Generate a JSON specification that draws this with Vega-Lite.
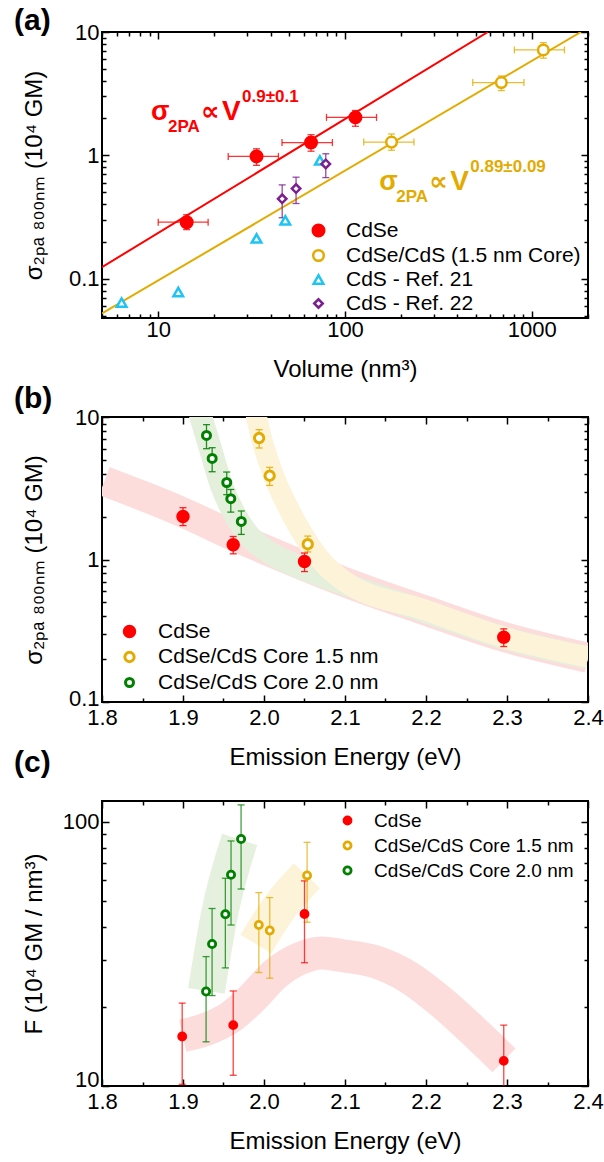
{
 "$schema": "https://vega.github.io/schema/vega-lite/v6.json",
 "background": "white",
 "padding": {"left": 13, "top": 5, "right": 5, "bottom": 5},
 "spacing": 99,
 "bounds": "flush",
 "datasets": {
  "pA": [
   {"s": "CdSe", "V": 14.2, "sig": 0.287, "Vlo": 10.0, "Vhi": 18.5, "slo": 0.25, "shi": 0.33},
   {"s": "CdSe", "V": 33.6, "sig": 0.98, "Vlo": 23.7, "Vhi": 44.0, "slo": 0.83, "shi": 1.13},
   {"s": "CdSe", "V": 65.8, "sig": 1.27, "Vlo": 46.0, "Vhi": 85.6, "slo": 1.08, "shi": 1.47},
   {"s": "CdSe", "V": 113.7, "sig": 2.03, "Vlo": 79.6, "Vhi": 147.5, "slo": 1.72, "shi": 2.31},
   {"s": "CdSe/CdS (1.5 nm Core)", "V": 177.5, "sig": 1.28, "Vlo": 126, "Vhi": 234, "slo": 1.10, "shi": 1.49},
   {"s": "CdSe/CdS (1.5 nm Core)", "V": 687, "sig": 3.89, "Vlo": 483, "Vhi": 908, "slo": 3.35, "shi": 4.4},
   {"s": "CdSe/CdS (1.5 nm Core)", "V": 1153, "sig": 7.15, "Vlo": 807, "Vhi": 1496, "slo": 6.14, "shi": 8.2},
   {"s": "CdS - Ref. 21", "V": 6.37, "sig": 0.064, "Vlo": null, "Vhi": null, "slo": null, "shi": null},
   {"s": "CdS - Ref. 21", "V": 12.8, "sig": 0.078, "Vlo": null, "Vhi": null, "slo": null, "shi": null},
   {"s": "CdS - Ref. 21", "V": 33.6, "sig": 0.212, "Vlo": null, "Vhi": null, "slo": null, "shi": null},
   {"s": "CdS - Ref. 21", "V": 47.9, "sig": 0.297, "Vlo": null, "Vhi": null, "slo": null, "shi": null},
   {"s": "CdS - Ref. 21", "V": 73.4, "sig": 0.91, "Vlo": null, "Vhi": null, "slo": null, "shi": null},
   {"s": "CdS - Ref. 22", "V": 46.1, "sig": 0.444, "Vlo": null, "Vhi": null, "slo": 0.312, "shi": 0.576},
   {"s": "CdS - Ref. 22", "V": 54.7, "sig": 0.538, "Vlo": null, "Vhi": null, "slo": 0.407, "shi": 0.665},
   {"s": "CdS - Ref. 22", "V": 78.9, "sig": 0.852, "Vlo": null, "Vhi": null, "slo": 0.66, "shi": 1.03}
  ],
  "fA": [
   {"fit": "CdSe", "V": 5, "sig": 0.124},
   {"fit": "CdSe", "V": 582, "sig": 10},
   {"fit": "CdSe/CdS (1.5 nm Core)", "V": 5, "sig": 0.0522},
   {"fit": "CdSe/CdS (1.5 nm Core)", "V": 1833, "sig": 10}
  ],
  "nA": [
   {"fit": "CdSe", "V": 9.15, "sig": 1.944, "sup": "0.9±0.1"},
   {"fit": "CdSe/CdS (1.5 nm Core)", "V": 152.6, "sig": 0.528, "sup": "0.89±0.09"}
  ],
  "pB": [
   {"s": "CdSe", "E": 1.900, "sig": 2.0, "lo": 1.73, "hi": 2.31},
   {"s": "CdSe", "E": 1.962, "sig": 1.27, "lo": 1.096, "hi": 1.45},
   {"s": "CdSe", "E": 2.050, "sig": 0.968, "lo": 0.823, "hi": 1.11},
   {"s": "CdSe", "E": 2.296, "sig": 0.285, "lo": 0.245, "hi": 0.326},
   {"s": "CdSe/CdS Core 1.5 nm", "E": 1.994, "sig": 7.12, "lo": 6.06, "hi": 8.15},
   {"s": "CdSe/CdS Core 1.5 nm", "E": 2.007, "sig": 3.87, "lo": 3.31, "hi": 4.43},
   {"s": "CdSe/CdS Core 1.5 nm", "E": 2.054, "sig": 1.28, "lo": 1.13, "hi": 1.46},
   {"s": "CdSe/CdS Core 2.0 nm", "E": 1.929, "sig": 7.43, "lo": 5.99, "hi": 8.84},
   {"s": "CdSe/CdS Core 2.0 nm", "E": 1.936, "sig": 5.12, "lo": 4.13, "hi": 6.09},
   {"s": "CdSe/CdS Core 2.0 nm", "E": 1.954, "sig": 3.47, "lo": 2.85, "hi": 4.11},
   {"s": "CdSe/CdS Core 2.0 nm", "E": 1.959, "sig": 2.67, "lo": 2.15, "hi": 3.10},
   {"s": "CdSe/CdS Core 2.0 nm", "E": 1.972, "sig": 1.85, "lo": 1.50, "hi": 2.19}
  ],
  "bB": [
   {"s": "CdSe", "E": 1.803, "sig": 3.55},
   {"s": "CdSe", "E": 1.85, "sig": 2.8},
   {"s": "CdSe", "E": 1.90, "sig": 2.14},
   {"s": "CdSe", "E": 1.963, "sig": 1.46},
   {"s": "CdSe", "E": 2.05, "sig": 0.90},
   {"s": "CdSe", "E": 2.101, "sig": 0.69},
   {"s": "CdSe", "E": 2.2, "sig": 0.437},
   {"s": "CdSe", "E": 2.297, "sig": 0.285},
   {"s": "CdSe", "E": 2.4, "sig": 0.204},
   {"s": "CdSe/CdS Core 2.0 nm", "E": 1.921, "sig": 10.5},
   {"s": "CdSe/CdS Core 2.0 nm", "E": 1.9347, "sig": 5.77},
   {"s": "CdSe/CdS Core 2.0 nm", "E": 1.947, "sig": 3.37},
   {"s": "CdSe/CdS Core 2.0 nm", "E": 1.9615, "sig": 2.19},
   {"s": "CdSe/CdS Core 2.0 nm", "E": 1.980, "sig": 1.50},
   {"s": "CdSe/CdS Core 2.0 nm", "E": 2.0047, "sig": 1.14},
   {"s": "CdSe/CdS Core 2.0 nm", "E": 2.0458, "sig": 0.874},
   {"s": "CdSe/CdS Core 2.0 nm", "E": 2.1014, "sig": 0.668},
   {"s": "CdSe/CdS Core 2.0 nm", "E": 2.2, "sig": 0.43},
   {"s": "CdSe/CdS Core 2.0 nm", "E": 2.3, "sig": 0.278},
   {"s": "CdSe/CdS Core 2.0 nm", "E": 2.4, "sig": 0.205},
   {"s": "CdSe/CdS Core 1.5 nm", "E": 1.990, "sig": 10.5},
   {"s": "CdSe/CdS Core 1.5 nm", "E": 1.996, "sig": 7.4},
   {"s": "CdSe/CdS Core 1.5 nm", "E": 2.005, "sig": 5.0},
   {"s": "CdSe/CdS Core 1.5 nm", "E": 2.015, "sig": 3.5},
   {"s": "CdSe/CdS Core 1.5 nm", "E": 2.027, "sig": 2.5},
   {"s": "CdSe/CdS Core 1.5 nm", "E": 2.040, "sig": 1.8},
   {"s": "CdSe/CdS Core 1.5 nm", "E": 2.055, "sig": 1.3},
   {"s": "CdSe/CdS Core 1.5 nm", "E": 2.075, "sig": 0.92},
   {"s": "CdSe/CdS Core 1.5 nm", "E": 2.10, "sig": 0.70},
   {"s": "CdSe/CdS Core 1.5 nm", "E": 2.2, "sig": 0.44},
   {"s": "CdSe/CdS Core 1.5 nm", "E": 2.3, "sig": 0.28},
   {"s": "CdSe/CdS Core 1.5 nm", "E": 2.4, "sig": 0.207}
  ],
  "pC": [
   {"s": "CdSe", "E": 1.899, "F": 15.4, "lo": 10.15, "hi": 20.6},
   {"s": "CdSe", "E": 1.962, "F": 17.0, "lo": 10.98, "hi": 22.9},
   {"s": "CdSe", "E": 2.050, "F": 44.8, "lo": 29.3, "hi": 59.8},
   {"s": "CdSe", "E": 2.296, "F": 12.45, "lo": 9.7, "hi": 17.0},
   {"s": "CdSe/CdS Core 1.5 nm", "E": 1.9936, "F": 40.7, "lo": 26.9, "hi": 54.0},
   {"s": "CdSe/CdS Core 1.5 nm", "E": 2.0071, "F": 38.8, "lo": 25.6, "hi": 51.7},
   {"s": "CdSe/CdS Core 1.5 nm", "E": 2.0532, "F": 62.7, "lo": 41.7, "hi": 83.7},
   {"s": "CdSe/CdS Core 2.0 nm", "E": 1.9285, "F": 22.8, "lo": 14.7, "hi": 30.9},
   {"s": "CdSe/CdS Core 2.0 nm", "E": 1.9359, "F": 34.5, "lo": 22.0, "hi": 47.0},
   {"s": "CdSe/CdS Core 2.0 nm", "E": 1.9523, "F": 44.7, "lo": 28.0, "hi": 61.2},
   {"s": "CdSe/CdS Core 2.0 nm", "E": 1.9593, "F": 63.1, "lo": 40.7, "hi": 84.7},
   {"s": "CdSe/CdS Core 2.0 nm", "E": 1.9717, "F": 86.2, "lo": 55.7, "hi": 116}
  ],
  "bC": [
   {"s": "CdSe", "E": 1.8997, "F": 15.5},
   {"s": "CdSe", "E": 1.9285, "F": 16.4},
   {"s": "CdSe", "E": 1.9594, "F": 18.3},
   {"s": "CdSe", "E": 1.984, "F": 21.3},
   {"s": "CdSe", "E": 2.0149, "F": 26.7},
   {"s": "CdSe", "E": 2.0458, "F": 30.5},
   {"s": "CdSe", "E": 2.0705, "F": 31.9},
   {"s": "CdSe", "E": 2.0952, "F": 31.2},
   {"s": "CdSe", "E": 2.1364, "F": 29.6},
   {"s": "CdSe", "E": 2.1776, "F": 25.9},
   {"s": "CdSe", "E": 2.2188, "F": 20.8},
   {"s": "CdSe", "E": 2.26, "F": 16.0},
   {"s": "CdSe", "E": 2.2963, "F": 12.5},
   {"s": "CdSe/CdS Core 2.0 nm", "E": 1.9289, "F": 22.9},
   {"s": "CdSe/CdS Core 2.0 nm", "E": 1.9449, "F": 44.5},
   {"s": "CdSe/CdS Core 2.0 nm", "E": 1.970, "F": 85.8},
   {"s": "CdSe/CdS Core 1.5 nm", "E": 1.990, "F": 34.5},
   {"s": "CdSe/CdS Core 1.5 nm", "E": 2.018, "F": 47},
   {"s": "CdSe/CdS Core 1.5 nm", "E": 2.053, "F": 62.5}
  ]
 },
 "vconcat": [
  {
   "width": 486, "height": 286,
   "title": {"text": "(a)", "anchor": "start", "frame": "group", "fontSize": 30, "fontWeight": "bold", "dx": -88, "offset": -15},
   "layer": [
    {
     "data": {"name": "fA"},
     "mark": {"type": "line", "strokeWidth": 2, "clip": true},
     "encoding": {
      "x": {"field": "V", "type": "quantitative", "scale": {"type": "log", "domain": [5, 2000], "nice": false},
            "axis": {"orient": "top", "labels": false, "title": null, "values": [5,6,7,8,9,10,20,30,40,50,60,70,80,90,100,200,300,400,500,600,700,800,900,1000,2000],
                     "tickSize": {"condition": {"test": "abs(log(datum.value)/LN10 - round(log(datum.value)/LN10)) < 0.001", "value": -7}, "value": -4}}},
      "y": {"field": "sig", "type": "quantitative", "scale": {"type": "log", "domain": [0.048, 10], "nice": false},
            "axis": {"orient": "right", "labels": false, "title": null, "values": [0.05,0.06,0.07,0.08,0.09,0.1,0.2,0.3,0.4,0.5,0.6,0.7,0.8,0.9,1,2,3,4,5,6,7,8,9,10],
                     "tickSize": {"condition": {"test": "abs(log(datum.value)/LN10 - round(log(datum.value)/LN10)) < 0.001", "value": -7}, "value": -4}}},
      "color": {"field": "fit", "type": "nominal", "scale": {"domain": ["CdS - Ref. 22", "CdS - Ref. 21", "CdSe/CdS (1.5 nm Core)", "CdSe"], "range": ["#7b1f8e", "#1ec4f2", "#e3ab00", "#ff0000"]}, "legend": null}
     }
    },
    {
     "data": {"name": "nA"},
     "mark": {"type": "text", "text": "σ", "fontSize": 27, "fontWeight": "bold", "align": "left", "baseline": "alphabetic"},
     "encoding": {
      "x": {"field": "V", "type": "quantitative", "scale": {"type": "log", "domain": [5, 2000], "nice": false}, "axis": null},
      "y": {"field": "sig", "type": "quantitative", "scale": {"type": "log", "domain": [0.048, 10], "nice": false}, "axis": null},
      "color": {"field": "fit", "type": "nominal", "legend": null}
     }
    },
    {
     "data": {"name": "nA"},
     "mark": {"type": "text", "text": "2PA", "fontSize": 17, "fontWeight": "bold", "align": "left", "baseline": "alphabetic", "dx": 17, "dy": 12},
     "encoding": {
      "x": {"field": "V", "type": "quantitative", "scale": {"type": "log", "domain": [5, 2000], "nice": false}, "axis": null},
      "y": {"field": "sig", "type": "quantitative", "scale": {"type": "log", "domain": [0.048, 10], "nice": false}, "axis": null},
      "color": {"field": "fit", "type": "nominal", "legend": null}
     }
    },
    {
     "data": {"name": "nA"},
     "mark": {"type": "text", "text": "∝", "fontSize": 26, "fontWeight": "bold", "align": "left", "baseline": "alphabetic", "dx": 50, "font": "DejaVu Sans"},
     "encoding": {
      "x": {"field": "V", "type": "quantitative", "scale": {"type": "log", "domain": [5, 2000], "nice": false}, "axis": null},
      "y": {"field": "sig", "type": "quantitative", "scale": {"type": "log", "domain": [0.048, 10], "nice": false}, "axis": null},
      "color": {"field": "fit", "type": "nominal", "legend": null}
     }
    },
    {
     "data": {"name": "nA"},
     "mark": {"type": "text", "text": "V", "fontSize": 28, "fontWeight": "bold", "align": "left", "baseline": "alphabetic", "dx": 71},
     "encoding": {
      "x": {"field": "V", "type": "quantitative", "scale": {"type": "log", "domain": [5, 2000], "nice": false}, "axis": null},
      "y": {"field": "sig", "type": "quantitative", "scale": {"type": "log", "domain": [0.048, 10], "nice": false}, "axis": null},
      "color": {"field": "fit", "type": "nominal", "legend": null}
     }
    },
    {
     "data": {"name": "nA"},
     "mark": {"type": "text", "fontSize": 17, "fontWeight": "bold", "align": "left", "baseline": "alphabetic", "dx": 91, "dy": -18},
     "encoding": {
      "x": {"field": "V", "type": "quantitative", "scale": {"type": "log", "domain": [5, 2000], "nice": false}, "axis": null},
      "y": {"field": "sig", "type": "quantitative", "scale": {"type": "log", "domain": [0.048, 10], "nice": false}, "axis": null},
      "text": {"field": "sup"},
      "color": {"field": "fit", "type": "nominal", "legend": null}
     }
    },
    {
     "data": {"name": "pA"},
     "transform": [{"filter": "isValid(datum.slo)"}],
     "mark": {"type": "errorbar", "ticks": {"size": 7}, "thickness": 1.3, "opacity": 0.8},
     "encoding": {
      "x": {"field": "V", "type": "quantitative", "scale": {"type": "log", "domain": [5, 2000], "nice": false}, "axis": null},
      "y": {"field": "slo", "type": "quantitative", "scale": {"type": "log", "domain": [0.048, 10], "nice": false}, "axis": null},
      "y2": {"field": "shi"},
      "color": {"field": "s", "type": "nominal", "legend": null}
     }
    },
    {
     "data": {"name": "pA"},
     "transform": [{"filter": "isValid(datum.Vlo)"}],
     "mark": {"type": "errorbar", "ticks": {"size": 7}, "thickness": 1.3, "opacity": 0.8},
     "encoding": {
      "x": {"field": "Vlo", "type": "quantitative", "scale": {"type": "log", "domain": [5, 2000], "nice": false}, "axis": null},
      "x2": {"field": "Vhi"},
      "y": {"field": "sig", "type": "quantitative", "scale": {"type": "log", "domain": [0.048, 10], "nice": false}, "axis": null},
      "color": {"field": "s", "type": "nominal", "legend": null}
     }
    },
    {
     "data": {"name": "pA"},
     "mark": {"type": "point", "strokeWidth": 2.5, "opacity": 1},
     "encoding": {
      "x": {"field": "V", "type": "quantitative", "scale": {"type": "log", "domain": [5, 2000], "nice": false},
            "axis": {"orient": "bottom", "title": "Volume (nm³)", "values": [5,6,7,8,9,10,20,30,40,50,60,70,80,90,100,200,300,400,500,600,700,800,900,1000,2000],
                     "labelExpr": "abs(log(datum.value)/LN10 - round(log(datum.value)/LN10)) < 0.001 ? format(datum.value, '~g') : ''",
                     "tickSize": {"condition": {"test": "abs(log(datum.value)/LN10 - round(log(datum.value)/LN10)) < 0.001", "value": -7}, "value": -4},
                     "labelPadding": 8, "titlePadding": 14}},
      "y": {"field": "sig", "type": "quantitative", "scale": {"type": "log", "domain": [0.048, 10], "nice": false},
            "axis": {"orient": "left", "title": "σ₂ₚₐ ₈₀₀ₙₘ (10⁴ GM)", "values": [0.05,0.06,0.07,0.08,0.09,0.1,0.2,0.3,0.4,0.5,0.6,0.7,0.8,0.9,1,2,3,4,5,6,7,8,9,10],
                     "labelExpr": "abs(log(datum.value)/LN10 - round(log(datum.value)/LN10)) < 0.001 ? format(datum.value, '~g') : ''",
                     "tickSize": {"condition": {"test": "abs(log(datum.value)/LN10 - round(log(datum.value)/LN10)) < 0.001", "value": -7}, "value": -4},
                     "labelPadding": 10, "titlePadding": 22}},
      "stroke": {"field": "s", "type": "nominal", "scale": {"domain": ["CdSe", "CdSe/CdS (1.5 nm Core)", "CdS - Ref. 21", "CdS - Ref. 22"], "range": ["#ff0000", "#e3ab00", "#1ec4f2", "#7b1f8e"]},
                 "legend": {"legendX": 206, "legendY": 188, "labelFontSize": 21, "symbolStrokeWidth": 2.5, "rowPadding": 2, "labelOffset": 17}},
      "fill": {"field": "s", "type": "nominal", "scale": {"domain": ["CdSe", "CdSe/CdS (1.5 nm Core)", "CdS - Ref. 21", "CdS - Ref. 22"], "range": ["#ff0000", "#ffffff", "#ffffff", "#ffffff"]},
                 "legend": {"legendX": 206, "legendY": 188, "labelFontSize": 21, "symbolStrokeWidth": 2.5, "rowPadding": 2, "labelOffset": 17}},
      "shape": {"field": "s", "type": "nominal", "scale": {"domain": ["CdSe", "CdSe/CdS (1.5 nm Core)", "CdS - Ref. 21", "CdS - Ref. 22"], "range": ["circle", "circle", "triangle-up", "diamond"]},
                 "legend": {"legendX": 206, "legendY": 188, "labelFontSize": 21, "symbolStrokeWidth": 2.5, "rowPadding": 2, "labelOffset": 17}},
      "size": {"field": "s", "type": "nominal", "scale": {"domain": ["CdSe", "CdSe/CdS (1.5 nm Core)", "CdS - Ref. 21", "CdS - Ref. 22"], "range": [132, 72, 95, 110]},
                 "legend": {"legendX": 206, "legendY": 188, "labelFontSize": 21, "symbolStrokeWidth": 2.5, "rowPadding": 2, "labelOffset": 17}}
     }
    }
   ],
   "resolve": {"axis": {"x": "independent", "y": "independent"}}
  },
  {
   "width": 486, "height": 285,
   "title": {"text": "(b)", "anchor": "start", "frame": "group", "fontSize": 30, "fontWeight": "bold", "dx": -88, "offset": -8},
   "layer": [
    {
     "data": {"name": "bB"},
     "transform": [{"filter": "datum.s == 'CdSe'"}],
     "mark": {"type": "line", "color": "#fddcdc", "strokeWidth": 30, "strokeCap": "butt", "interpolate": "monotone", "clip": true},
     "encoding": {
      "x": {"field": "E", "type": "quantitative", "scale": {"type": "linear", "domain": [1.8, 2.4], "nice": false, "zero": false},
            "axis": {"orient": "top", "labels": false, "title": null, "values": [1.8,1.85,1.9,1.95,2.0,2.05,2.1,2.15,2.2,2.25,2.3,2.35,2.4],
                     "tickSize": {"condition": {"test": "abs(datum.value*10 - round(datum.value*10)) < 0.001", "value": -7}, "value": -4}}},
      "y": {"field": "sig", "type": "quantitative", "scale": {"type": "log", "domain": [0.1, 10], "nice": false},
            "axis": {"orient": "right", "labels": false, "title": null, "values": [0.1,0.2,0.3,0.4,0.5,0.6,0.7,0.8,0.9,1,2,3,4,5,6,7,8,9,10],
                     "tickSize": {"condition": {"test": "abs(log(datum.value)/LN10 - round(log(datum.value)/LN10)) < 0.001", "value": -7}, "value": -4}}}
     }
    },
    {
     "data": {"name": "bB"},
     "transform": [{"filter": "datum.s == 'CdSe/CdS Core 2.0 nm'"}],
     "mark": {"type": "line", "color": "#e4efdc", "strokeWidth": 23, "strokeCap": "butt", "interpolate": "monotone", "clip": true},
     "encoding": {
      "x": {"field": "E", "type": "quantitative", "scale": {"type": "linear", "domain": [1.8, 2.4], "nice": false, "zero": false}, "axis": null},
      "y": {"field": "sig", "type": "quantitative", "scale": {"type": "log", "domain": [0.1, 10], "nice": false}, "axis": null}
     }
    },
    {
     "data": {"name": "bB"},
     "transform": [{"filter": "datum.s == 'CdSe/CdS Core 1.5 nm'"}],
     "mark": {"type": "line", "color": "#fdf3d8", "strokeWidth": 21, "strokeCap": "butt", "interpolate": "monotone", "clip": true},
     "encoding": {
      "x": {"field": "E", "type": "quantitative", "scale": {"type": "linear", "domain": [1.8, 2.4], "nice": false, "zero": false}, "axis": null},
      "y": {"field": "sig", "type": "quantitative", "scale": {"type": "log", "domain": [0.1, 10], "nice": false}, "axis": null}
     }
    },
    {
     "data": {"name": "pB"},
     "mark": {"type": "errorbar", "ticks": {"size": 7}, "thickness": 1.3, "opacity": 0.85},
     "encoding": {
      "x": {"field": "E", "type": "quantitative", "scale": {"type": "linear", "domain": [1.8, 2.4], "nice": false, "zero": false}, "axis": null},
      "y": {"field": "lo", "type": "quantitative", "scale": {"type": "log", "domain": [0.1, 10], "nice": false}, "axis": null},
      "y2": {"field": "hi"},
      "color": {"field": "s", "type": "nominal", "scale": {"domain": ["CdSe/CdS Core 2.0 nm", "CdSe/CdS Core 1.5 nm", "CdSe"], "range": ["#008000", "#e3ab00", "#ff0000"]}, "legend": null}
     }
    },
    {
     "data": {"name": "pB"},
     "mark": {"type": "point", "strokeWidth": 3, "opacity": 1},
     "encoding": {
      "x": {"field": "E", "type": "quantitative", "scale": {"type": "linear", "domain": [1.8, 2.4], "nice": false, "zero": false},
            "axis": {"orient": "bottom", "title": "Emission Energy (eV)", "values": [1.8,1.85,1.9,1.95,2.0,2.05,2.1,2.15,2.2,2.25,2.3,2.35,2.4],
                     "labelExpr": "abs(datum.value*10 - round(datum.value*10)) < 0.001 ? format(datum.value, '.1f') : ''",
                     "tickSize": {"condition": {"test": "abs(datum.value*10 - round(datum.value*10)) < 0.001", "value": -7}, "value": -4},
                     "labelPadding": 12, "titlePadding": 14}},
      "y": {"field": "sig", "type": "quantitative", "scale": {"type": "log", "domain": [0.1, 10], "nice": false},
            "axis": {"orient": "left", "title": "σ₂ₚₐ ₈₀₀ₙₘ (10⁴ GM)", "values": [0.1,0.2,0.3,0.4,0.5,0.6,0.7,0.8,0.9,1,2,3,4,5,6,7,8,9,10],
                     "labelExpr": "abs(log(datum.value)/LN10 - round(log(datum.value)/LN10)) < 0.001 ? format(datum.value, '~g') : ''",
                     "tickSize": {"condition": {"test": "abs(log(datum.value)/LN10 - round(log(datum.value)/LN10)) < 0.001", "value": -7}, "value": -4},
                     "labelOffset": {"condition": {"test": "datum.value < 0.101", "value": -4}, "value": 0},
                     "labelPadding": 10, "titlePadding": 22}},
      "stroke": {"field": "s", "type": "nominal", "scale": {"domain": ["CdSe", "CdSe/CdS Core 1.5 nm", "CdSe/CdS Core 2.0 nm"], "range": ["#ff0000", "#e3ab00", "#008000"]},
                 "legend": {"legendX": 17, "legendY": 204, "labelFontSize": 21, "symbolStrokeWidth": 3, "rowPadding": 2.5, "labelOffset": 18}},
      "fill": {"field": "s", "type": "nominal", "scale": {"domain": ["CdSe", "CdSe/CdS Core 1.5 nm", "CdSe/CdS Core 2.0 nm"], "range": ["#ff0000", "#ffffff", "#ffffff"]},
                 "legend": {"legendX": 17, "legendY": 204, "labelFontSize": 21, "symbolStrokeWidth": 3, "rowPadding": 2.5, "labelOffset": 18}},
      "size": {"field": "s", "type": "nominal", "scale": {"domain": ["CdSe", "CdSe/CdS Core 1.5 nm", "CdSe/CdS Core 2.0 nm"], "range": [110, 64, 49]},
                 "legend": {"legendX": 17, "legendY": 204, "labelFontSize": 21, "symbolStrokeWidth": 3, "rowPadding": 2.5, "labelOffset": 18}}
     }
    }
   ],
   "resolve": {"axis": {"x": "independent", "y": "independent"}}
  },
  {
   "width": 486, "height": 285,
   "title": {"text": "(c)", "anchor": "start", "frame": "group", "fontSize": 30, "fontWeight": "bold", "dx": -88, "offset": 22},
   "layer": [
    {
     "data": {"name": "bC"},
     "transform": [{"filter": "datum.s == 'CdSe'"}],
     "mark": {"type": "line", "color": "#fddcdc", "strokeWidth": 33, "strokeCap": "butt", "interpolate": "monotone", "clip": true},
     "encoding": {
      "x": {"field": "E", "type": "quantitative", "scale": {"type": "linear", "domain": [1.8, 2.4], "nice": false, "zero": false},
            "axis": {"orient": "top", "labels": false, "title": null, "values": [1.8,1.85,1.9,1.95,2.0,2.05,2.1,2.15,2.2,2.25,2.3,2.35,2.4],
                     "tickSize": {"condition": {"test": "abs(datum.value*10 - round(datum.value*10)) < 0.001", "value": -7}, "value": -4}}},
      "y": {"field": "F", "type": "quantitative", "scale": {"type": "log", "domain": [10, 120], "nice": false},
            "axis": {"orient": "right", "labels": false, "title": null, "values": [10,20,30,40,50,60,70,80,90,100],
                     "tickSize": {"condition": {"test": "abs(log(datum.value)/LN10 - round(log(datum.value)/LN10)) < 0.001", "value": -7}, "value": -4}}}
     }
    },
    {
     "data": {"name": "bC"},
     "transform": [{"filter": "datum.s == 'CdSe/CdS Core 2.0 nm'"}],
     "mark": {"type": "line", "color": "#e6f0df", "strokeWidth": 37, "strokeCap": "butt", "interpolate": "monotone", "clip": true},
     "encoding": {
      "x": {"field": "E", "type": "quantitative", "scale": {"type": "linear", "domain": [1.8, 2.4], "nice": false, "zero": false}, "axis": null},
      "y": {"field": "F", "type": "quantitative", "scale": {"type": "log", "domain": [10, 120], "nice": false}, "axis": null}
     }
    },
    {
     "data": {"name": "bC"},
     "transform": [{"filter": "datum.s == 'CdSe/CdS Core 1.5 nm'"}],
     "mark": {"type": "line", "color": "#fdf3d8", "strokeWidth": 36, "strokeCap": "butt", "interpolate": "monotone", "clip": true},
     "encoding": {
      "x": {"field": "E", "type": "quantitative", "scale": {"type": "linear", "domain": [1.8, 2.4], "nice": false, "zero": false}, "axis": null},
      "y": {"field": "F", "type": "quantitative", "scale": {"type": "log", "domain": [10, 120], "nice": false}, "axis": null}
     }
    },
    {
     "data": {"name": "pC"},
     "mark": {"type": "errorbar", "ticks": {"size": 7}, "thickness": 1.3, "opacity": 0.75, "clip": true},
     "encoding": {
      "x": {"field": "E", "type": "quantitative", "scale": {"type": "linear", "domain": [1.8, 2.4], "nice": false, "zero": false}, "axis": null},
      "y": {"field": "lo", "type": "quantitative", "scale": {"type": "log", "domain": [10, 120], "nice": false}, "axis": null},
      "y2": {"field": "hi"},
      "color": {"field": "s", "type": "nominal", "scale": {"domain": ["CdSe/CdS Core 2.0 nm", "CdSe/CdS Core 1.5 nm", "CdSe"], "range": ["#008000", "#e3ab00", "#ff0000"]}, "legend": null}
     }
    },
    {
     "data": {"name": "pC"},
     "mark": {"type": "point", "strokeWidth": 2.8, "opacity": 1},
     "encoding": {
      "x": {"field": "E", "type": "quantitative", "scale": {"type": "linear", "domain": [1.8, 2.4], "nice": false, "zero": false},
            "axis": {"orient": "bottom", "title": "Emission Energy (eV)", "values": [1.8,1.85,1.9,1.95,2.0,2.05,2.1,2.15,2.2,2.25,2.3,2.35,2.4],
                     "labelExpr": "abs(datum.value*10 - round(datum.value*10)) < 0.001 ? format(datum.value, '.1f') : ''",
                     "tickSize": {"condition": {"test": "abs(datum.value*10 - round(datum.value*10)) < 0.001", "value": -7}, "value": -4},
                     "labelPadding": 12, "titlePadding": 14}},
      "y": {"field": "F", "type": "quantitative", "scale": {"type": "log", "domain": [10, 120], "nice": false},
            "axis": {"orient": "left", "title": "F  (10⁴ GM / nm³)", "values": [10,20,30,40,50,60,70,80,90,100],
                     "labelExpr": "abs(log(datum.value)/LN10 - round(log(datum.value)/LN10)) < 0.001 ? format(datum.value, '~g') : ''",
                     "tickSize": {"condition": {"test": "abs(log(datum.value)/LN10 - round(log(datum.value)/LN10)) < 0.001", "value": -7}, "value": -4},
                     "labelOffset": {"condition": {"test": "datum.value < 10.01", "value": -7}, "value": 0},
                     "labelPadding": 10, "titlePadding": 16}},
      "stroke": {"field": "s", "type": "nominal", "scale": {"domain": ["CdSe", "CdSe/CdS Core 1.5 nm", "CdSe/CdS Core 2.0 nm"], "range": ["#ff0000", "#e3ab00", "#008000"]},
                 "legend": {"legendX": 236, "legendY": 10, "labelFontSize": 19, "symbolStrokeWidth": 2.8, "rowPadding": 5, "labelOffset": 17}},
      "fill": {"field": "s", "type": "nominal", "scale": {"domain": ["CdSe", "CdSe/CdS Core 1.5 nm", "CdSe/CdS Core 2.0 nm"], "range": ["#ff0000", "#ffffff", "#ffffff"]},
                 "legend": {"legendX": 236, "legendY": 10, "labelFontSize": 19, "symbolStrokeWidth": 2.8, "rowPadding": 5, "labelOffset": 17}},
      "size": {"field": "s", "type": "nominal", "scale": {"domain": ["CdSe", "CdSe/CdS Core 1.5 nm", "CdSe/CdS Core 2.0 nm"], "range": [49, 52, 42]},
                 "legend": {"legendX": 236, "legendY": 10, "labelFontSize": 19, "symbolStrokeWidth": 2.8, "rowPadding": 5, "labelOffset": 17}}
     }
    }
   ],
   "resolve": {"axis": {"x": "independent", "y": "independent"}}
  }
 ],
 "resolve": {
  "scale": {"color": "independent", "stroke": "independent", "fill": "independent", "shape": "independent", "size": "independent"}
 },
 "config": {
  "font": "Liberation Sans",
  "view": {"stroke": "#000", "strokeWidth": 2},
  "axis": {"domain": false, "grid": false, "labelFontSize": 22, "titleFontSize": 24, "titleFontWeight": "normal", "labelColor": "#000", "titleColor": "#000", "tickColor": "#000", "tickWidth": 1.5, "labelFlush": false, "labelOverlap": false, "labelBound": false, "labelFont": "Liberation Sans", "titleFont": "Liberation Sans"},
  "legend": {"orient": "none", "title": null, "padding": 0, "rowPadding": 4.5, "labelOffset": 22, "labelLimit": 500, "labelColor": "#000", "labelFont": "Liberation Sans"},
  "title": {"color": "#000", "font": "Liberation Sans"}
 }
}
